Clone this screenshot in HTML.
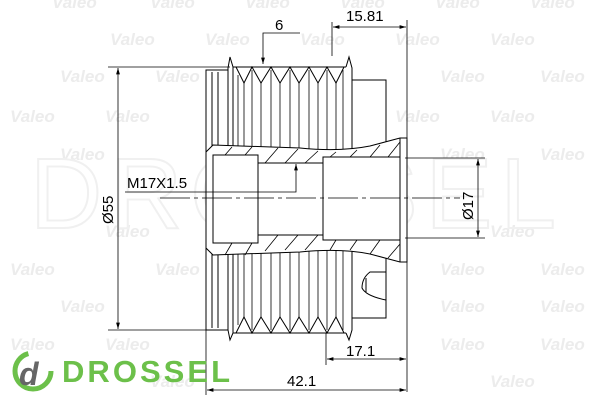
<!DOCTYPE html>
<html><head><style>
html,body{margin:0;padding:0;background:#fff;}
svg{display:block;}
text{font-family:"Liberation Sans",sans-serif;}
</style></head><body>
<svg width="600" height="400" viewBox="0 0 600 400" xmlns="http://www.w3.org/2000/svg">
<defs>
<marker id="a" viewBox="0 0 10 10" refX="10" refY="5" markerWidth="8" markerHeight="8" orient="auto-start-reverse"><path d="M0,2 L10,5 L0,8 z" fill="#000"/></marker>
</defs>
<g fill="#ececec" font-size="17" font-weight="bold" font-style="italic">
<text x="52" y="8">Valeo</text><text x="150" y="8">Valeo</text><text x="245" y="8">Valeo</text><text x="340" y="8">Valeo</text><text x="435" y="8">Valeo</text><text x="530" y="8">Valeo</text>
<text x="110" y="45">Valeo</text><text x="205" y="45">Valeo</text><text x="300" y="45">Valeo</text><text x="395" y="45">Valeo</text><text x="490" y="45">Valeo</text>
<text x="60" y="82">Valeo</text><text x="155" y="82">Valeo</text><text x="440" y="82">Valeo</text><text x="540" y="82">Valeo</text>
<text x="10" y="122">Valeo</text><text x="105" y="122">Valeo</text><text x="395" y="122">Valeo</text><text x="490" y="122">Valeo</text>
<text x="60" y="160">Valeo</text><text x="440" y="160">Valeo</text><text x="540" y="160">Valeo</text>
<text x="105" y="237">Valeo</text><text x="490" y="237">Valeo</text>
<text x="10" y="275">Valeo</text><text x="155" y="275">Valeo</text><text x="440" y="275">Valeo</text><text x="540" y="275">Valeo</text>
<text x="60" y="312">Valeo</text><text x="440" y="312">Valeo</text><text x="540" y="312">Valeo</text>
<text x="10" y="350">Valeo</text><text x="105" y="350">Valeo</text><text x="440" y="350">Valeo</text><text x="540" y="350">Valeo</text>
<text x="150" y="387">Valeo</text><text x="490" y="387">Valeo</text>
</g>
<text x="30" y="228" font-size="100" fill="none" stroke="#f0f0f0" stroke-width="2" letter-spacing="8">DROSSEL</text>

<g stroke="#000" stroke-width="1" fill="none">
<rect x="206" y="70" width="22" height="260"/>
<line x1="212" y1="72" x2="212" y2="328"/>
<line x1="218" y1="72" x2="218" y2="328"/>
<path d="M228,68 L230,57 L233,67 L233,333 L230,340 L228,330 Z"/>
<path d="M346,67 L349,57 L352,68 L352,330 L349,340 L346,333"/>
<line x1="233" y1="67" x2="346" y2="67"/>
<line x1="233" y1="333" x2="346" y2="333"/>
<path d="M236,67 L244,83 L252,67 L261,83 L271,67 L280,83 L290,67 L299,83 L309,67 L318,83 L327,67 L336,83 L344,67"/>
<path d="M236,333 L244,317 L252,333 L261,317 L271,333 L280,317 L290,333 L299,317 L309,333 L318,317 L327,333 L336,317 L344,333"/>
<g stroke-width="0.8">
<line x1="238" y1="75" x2="238" y2="325"/><line x1="244" y1="83" x2="244" y2="317"/><line x1="252" y1="70" x2="252" y2="330"/>
<line x1="261" y1="83" x2="261" y2="317"/><line x1="271" y1="70" x2="271" y2="330"/><line x1="280" y1="83" x2="280" y2="317"/>
<line x1="290" y1="70" x2="290" y2="330"/><line x1="299" y1="83" x2="299" y2="317"/><line x1="309" y1="70" x2="309" y2="330"/>
<line x1="318" y1="83" x2="318" y2="317"/><line x1="327" y1="70" x2="327" y2="330"/><line x1="336" y1="83" x2="336" y2="317"/>
<line x1="343" y1="70" x2="343" y2="330"/>
</g>
<path d="M352,80 L386,80 L386,145"/>
<path d="M352,318 L386,318 L386,258"/>
<path d="M386,272 L370,272 Q362,278 362,288 Q366,296 386,300"/>
<line x1="366" y1="278" x2="366" y2="292"/>
<path d="M206,152 L213,145 L300,148 Q340,152 370,146 L400,138 L407,138 L407,262 L400,262 L370,254 Q340,248 300,252 L213,255 L206,248 Z" fill="#fff"/>
<rect x="213" y="155" width="45" height="88"/>
<rect x="258" y="163" width="65" height="72"/>
<rect x="323" y="157" width="77" height="83"/>
<line x1="400" y1="138" x2="400" y2="262"/>
<g stroke-width="0.8">
<path d="M225,155 L232,147 M245,155 L252,147 M265,163 L278,148 M285,163 L298,149 M305,163 L318,151 M330,157 L336,152 M350,157 L357,150 M370,157 L380,145 M388,157 L400,142"/>
<path d="M225,255 L232,243 M245,255 L252,243 M265,251 L278,235 M285,250 L298,235 M305,250 L318,235 M330,250 L336,240 M350,250 L357,240 M370,254 L380,240 M388,258 L400,244"/>
</g>
</g>
<line x1="160" y1="198" x2="460" y2="198" stroke="#000" stroke-width="0.8" stroke-dasharray="30,4,4,4"/>

<g stroke="#000" stroke-width="0.8" fill="none">
<line x1="108" y1="67" x2="230" y2="67"/>
<line x1="108" y1="330" x2="206" y2="330"/>
<line x1="118" y1="68" x2="118" y2="329" marker-start="url(#a)" marker-end="url(#a)"/>
<line x1="332" y1="22" x2="332" y2="56"/>
<line x1="407" y1="20" x2="407" y2="392"/>
<line x1="333" y1="27" x2="406" y2="27" marker-start="url(#a)" marker-end="url(#a)"/>
<polyline points="300,33 263,33 263,64" marker-end="url(#a)"/>
<polyline points="125,192 296,192 296,164" marker-end="url(#a)"/>
<line x1="405" y1="158" x2="485" y2="158"/>
<line x1="405" y1="238" x2="485" y2="238"/>
<line x1="478" y1="159" x2="478" y2="237" marker-start="url(#a)" marker-end="url(#a)"/>
<line x1="326" y1="333" x2="326" y2="365"/>
<line x1="206" y1="330" x2="206" y2="395"/>
<line x1="327" y1="359" x2="406" y2="359" marker-start="url(#a)" marker-end="url(#a)"/>
<line x1="207" y1="390" x2="406" y2="390" marker-start="url(#a)" marker-end="url(#a)"/>
</g>
<g font-size="15" fill="#000">
<text x="346" y="21">15.81</text>
<text x="275" y="30">6</text>
<text x="127" y="188">M17X1.5</text>
<text x="346" y="356">17.1</text>
<text x="287" y="386">42.1</text>
<text transform="translate(113,224) rotate(-90)">Ø55</text>
<text transform="translate(473,220) rotate(-90)">Ø17</text>
</g>
<circle cx="33" cy="371" r="18" fill="none" stroke="#6cc04a" stroke-width="5" stroke-dasharray="80,33"/>
<text x="19" y="385" font-size="32" font-weight="bold" font-style="italic" fill="#666">d</text>
<text x="62" y="382" font-size="31" font-weight="bold" fill="#6cc04a" textLength="168">DROSSEL</text>
</svg>
</body></html>
